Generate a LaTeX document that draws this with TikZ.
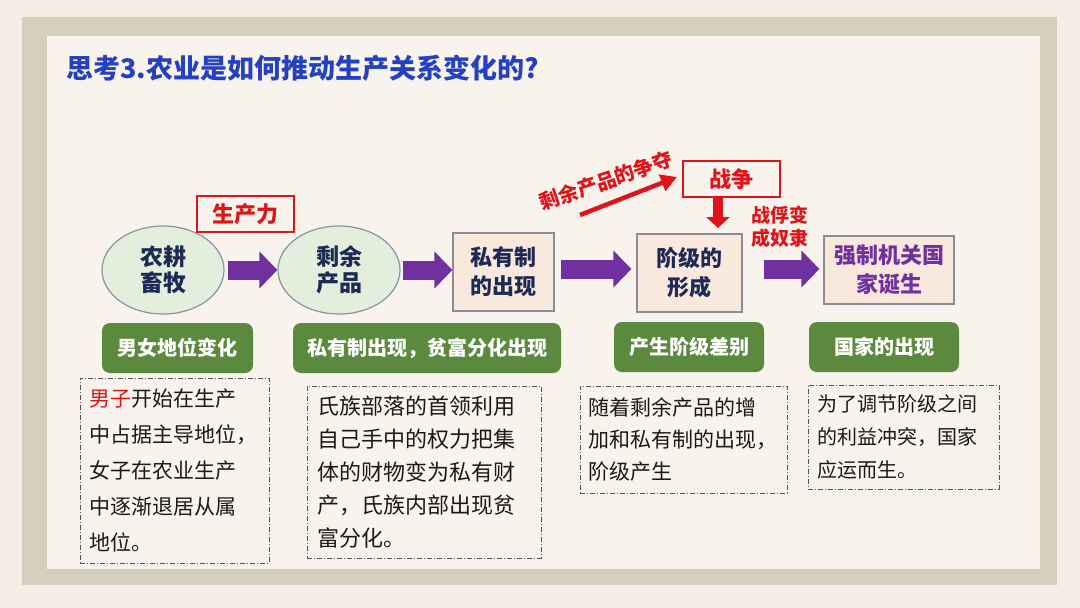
\documentclass[tikz,border=0pt]{standalone}
\usepackage{fontspec}
\setmainfont{Noto Sans CJK SC}
\usetikzlibrary{shapes.geometric,arrows.meta,calc}
\definecolor{outerbg}{HTML}{F4EEE5}
\definecolor{framec}{HTML}{D6CFBE}
\definecolor{innerbg}{HTML}{F8F3EC}
\definecolor{titleblue}{HTML}{2341C2}
\definecolor{navy}{HTML}{1C2A55}
\definecolor{purp}{HTML}{7030A0}
\definecolor{redc}{HTML}{E0131B}
\definecolor{ellfill}{HTML}{E3EFDC}
\definecolor{ellline}{HTML}{8595A3}
\definecolor{boxfill}{HTML}{F9E9DD}
\definecolor{boxline}{HTML}{8C8C96}
\definecolor{greenc}{HTML}{5B8A3F}
\definecolor{dashc}{HTML}{555555}
\definecolor{txt}{HTML}{1A1A1A}
\begin{document}
\begin{tikzpicture}[x=1pt,y=-1pt,
  ell/.style={ellipse, draw=ellline, line width=1.2pt, fill=ellfill, minimum width=122pt, minimum height=88pt, inner sep=0pt, align=center, text=navy, font=\fontsize{23}{26}\selectfont\bfseries},
  pbox/.style={rectangle, draw=boxline, line width=1.2pt, fill=boxfill, inner sep=0pt, align=center, text=navy, font=\fontsize{22}{29}\selectfont\bfseries},
  blockarrow/.style={purp, line width=19pt, -{Triangle[length=18pt 0 0,width=36pt 0 0]}},
  redbox/.style={rectangle, draw=redc, line width=1.5pt, inner sep=0pt, text=redc, font=\fontsize{22}{26}\selectfont\bfseries},
  redtxt/.style={text=redc, inner sep=0pt, font=\fontsize{20}{23}\selectfont\bfseries},
  glabel/.style={rectangle, rounded corners=8pt, fill=greenc, text=white, inner sep=0pt, font=\fontsize{20}{24}\selectfont\bfseries},
  dbox/.style={rectangle, draw=dashc, line width=1pt, dash pattern=on 5pt off 2pt on 1pt off 2pt, inner xsep=9pt, inner ysep=0pt, align=left, text=txt}
]
\useasboundingbox (0,0) rectangle (1080,608);
\fill[outerbg] (0,0) rectangle (1080,608);
\fill[framec] (22,17) rectangle (1057,585);
\fill[innerbg] (47,36) rectangle (1040,569);

% title
\node[anchor=west, inner sep=0pt, text=titleblue, font=\fontsize{27}{30}\selectfont\bfseries] (title) at (66,68) {思考3.农业是如何推动生产关系变化的?};

% main flow
\node[ell] (e1) at (163,270) {农耕\\畜牧};
\node[ell] (e2) at (339,270) {剩余\\产品};
\node[pbox, minimum width=101pt, minimum height=78pt] (b1) at (503.5,272) {私有制\\的出现};
\node[pbox, minimum width=105pt, minimum height=78pt] (b2) at (689.5,273) {阶级的\\形成};
\node[pbox, minimum width=130pt, minimum height=68pt, text=purp] (b3) at (889,270) {强制机关国\\家诞生};

\coordinate (a1s) at ($(e1.east)+(3,0)$);
\coordinate (a1e) at (e2.west);
\coordinate (a2s) at ($(e2.east)+(2,0)$);
\coordinate (a2e) at (b1.west |- a2s);
\coordinate (a3s) at ($(b1.east)+(6,-3)$);
\coordinate (a3e) at ($(b2.west |- a3s)+(-5,0)$);
\coordinate (a4s) at ($(b2.east)+(21,-4)$);
\coordinate (a4e) at ($(b3.west |- a4s)+(-4,0)$);
\draw[blockarrow] (a1s) -- (a1e);
\draw[blockarrow] (a2s) -- (a2e);
\draw[blockarrow] (a3s) -- (a3e);
\draw[blockarrow] (a4s) -- (a4e);

% red annotations
\node[redbox, minimum width=97pt, minimum height=36pt] (sc) at (245.5,214) {生产力};
\node[redbox, minimum width=97pt, minimum height=36pt] (war) at (731.5,179) {战争};
\coordinate (wt) at (718,228);
\draw[redc, line width=10pt, -{Triangle[length=11pt 0 0,width=23pt 0 0]}] (war.south -| wt) -- (wt);
\coordinate (ds) at (580,215);
\coordinate (de) at (677,177);
\draw[redc, line width=4.5pt, -{Triangle[length=16pt 0 0,width=17pt 0 0]}] (ds) -- (de);
\node[redtxt, rotate=19] (lbl) at (606,181) {剩余产品的争夺};
\node[redtxt, align=center, font=\fontsize{19}{23}\selectfont\bfseries] (pw) at (780,227) {战俘变\\成奴隶};

% green labels
\node[glabel, minimum width=151pt, minimum height=50pt] (g1) at (177.5,348) {男女地位变化};
\node[glabel, minimum width=268pt, minimum height=50pt] (g2) at (427,348) {私有制出现，贫富分化出现};
\node[glabel, minimum width=150pt, minimum height=50pt] (g3) at (689,347) {产生阶级差别};
\node[glabel, minimum width=150pt, minimum height=50pt] (g4) at (884,347) {国家的出现};

% dashed text boxes
\node[dbox, minimum width=189pt, minimum height=185pt, text width=171pt, font=\fontsize{21}{36}\selectfont] (d1) at (174.5,470.5)
  {{\color{redc}男子}开始在生产\\中占据主导地位，\\女子在农业生产\\中逐渐退居从属\\地位。};
\node[dbox, minimum width=234pt, minimum height=172pt, text width=214pt, inner xsep=10pt, font=\fontsize{22}{33}\selectfont] (d2) at (424,472)
  {氏族部落的首领利用\\自己手中的权力把集\\体的财物变为私有财\\产，氏族内部出现贫\\富分化。};
\node[dbox, minimum width=207pt, minimum height=107pt, text width=191pt, inner xsep=8pt, font=\fontsize{21}{32}\selectfont] (d3) at (683.5,439.5)
  {随着剩余产品的增\\加和私有制的出现，\\阶级产生};
\node[dbox, minimum width=191pt, minimum height=104pt, text width=173pt, font=\fontsize{20}{33}\selectfont] (d4) at (903.5,437)
  {为了调节阶级之间\\的利益冲突，国家\\应运而生。};
\end{tikzpicture}
\end{document}
